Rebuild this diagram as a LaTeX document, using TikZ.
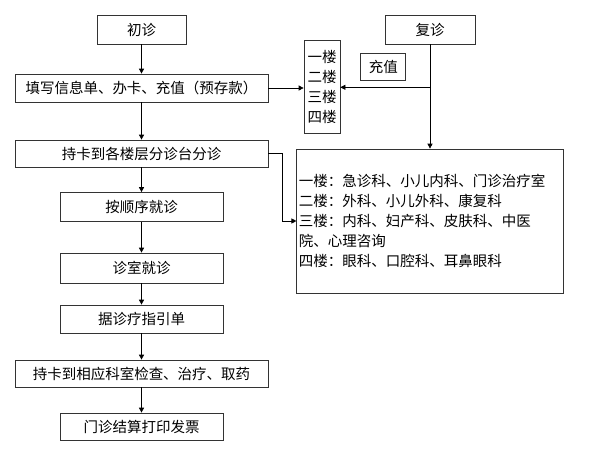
\documentclass[tikz,border=0pt]{standalone}
\usepackage{fontspec}
\newfontfamily\cjk{Noto Sans CJK SC}
\usetikzlibrary{arrows.meta}
\tikzset{box/.style={draw=black!80, line width=0.7pt, inner sep=0pt, font=\cjk\fontsize{14.5}{20}\selectfont},
  flow/.style={-{Triangle[length=5pt,width=5pt]}, line width=0.7pt}}

\begin{document}
\begin{tikzpicture}[x=1pt,y=-1pt]
\useasboundingbox (0,0) rectangle (597,458);
% first visit
\node[box, minimum width=89pt, minimum height=29pt] (chuzhen) at (141.5,29.5) {初诊};
\node[box, minimum width=253pt, minimum height=28pt] (tianxie) at (141.5,88) {填写信息单、办卡、充值（预存款）};
\node[box, minimum width=253pt, minimum height=27pt] (fenzhen) at (141.5,153.5) {持卡到各楼层分诊台分诊};
\node[box, minimum width=163pt, minimum height=29pt] (shunxu) at (141.5,207) {按顺序就诊};
\node[box, minimum width=163pt, minimum height=30pt] (zhenshi) at (141.5,268) {诊室就诊};
\node[box, minimum width=163pt, minimum height=28pt] (zhiyin) at (141.5,319) {据诊疗指引单};
\node[box, minimum width=253pt, minimum height=27pt] (jiancha) at (141.5,373.5) {持卡到相应科室检查、治疗、取药};
\node[box, minimum width=163pt, minimum height=27pt] (jiesuan) at (141.5,426.5) {门诊结算打印发票};
\draw[flow] (chuzhen) -- (tianxie);
\draw[flow] (tianxie) -- (fenzhen);
\draw[flow] (fenzhen) -- (shunxu);
\draw[flow] (shunxu) -- (zhenshi);
\draw[flow] (zhenshi) -- (zhiyin);
\draw[flow] (zhiyin) -- (jiancha);
\draw[flow] (jiancha) -- (jiesuan);
% return visit
\node[box, minimum width=90pt, minimum height=29pt] (fuzhen) at (430,29.5) {复诊};
\node[box, minimum width=36pt, minimum height=93pt, align=center] (louceng) at (322,87.3) {一楼\\二楼\\三楼\\四楼};
\node[box, minimum width=45pt, minimum height=27pt] (chongzhi) at (383.3,66.7) {充值};
\node[box, minimum width=267pt, minimum height=144pt, text width=263pt, align=left] (keshi) at (430.3,221)
  {一楼：急诊科、小儿内科、门诊治疗室\\二楼：外科、小儿外科、康复科\\三楼：内科、妇产科、皮肤科、中医\\院、心理咨询\\四楼：眼科、口腔科、耳鼻眼科};
\coordinate (fork) at (fuzhen |- louceng.east);
\draw[line width=0.7pt] (fuzhen) -- (fork);
\draw[flow] (fork) -- (louceng.east);
\draw[flow] (fork) -- (fork |- keshi.north);
\draw[flow] (tianxie.east) -- (tianxie.east -| louceng.west);
\draw[flow] (fenzhen.east) -- ++(14,0) |- (keshi.west);
\end{tikzpicture}
\end{document}
